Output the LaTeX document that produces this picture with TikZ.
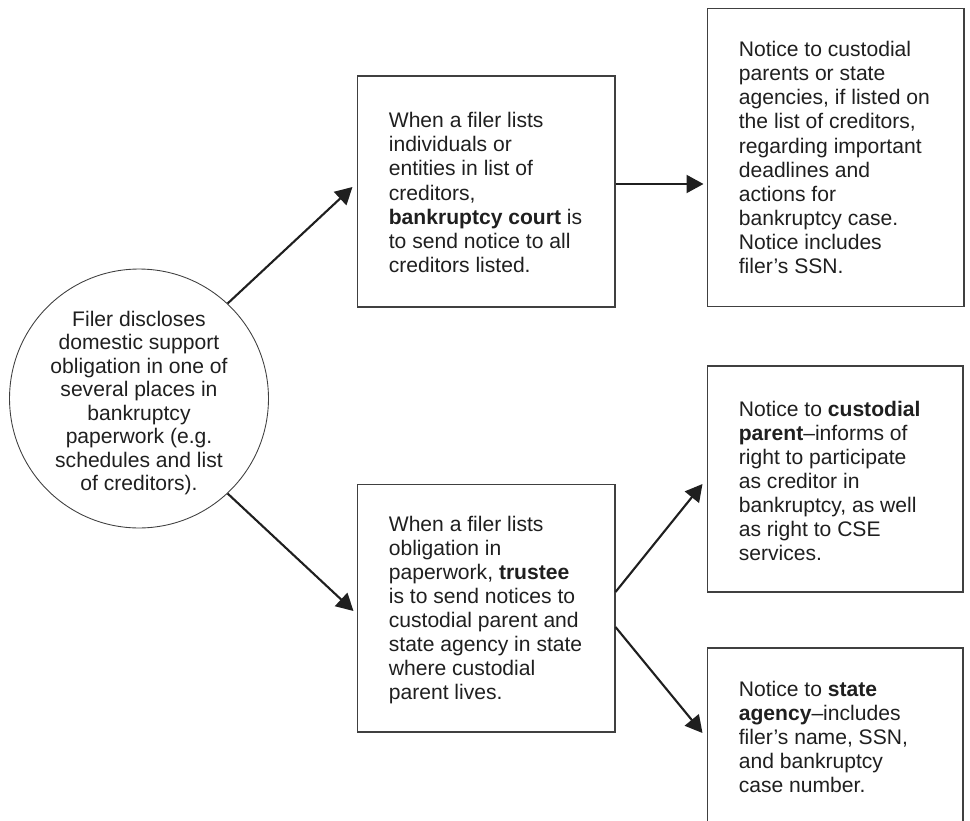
\documentclass[tikz,border=0pt]{standalone}
\usepackage{fontspec}
\setmainfont{Liberation Sans}
\usetikzlibrary{arrows.meta,calc}
\begin{document}
\begin{tikzpicture}[x=0.02cm,y=-0.02cm,
  txt/.style={font=\fontsize{12}{13.7}\selectfont, text=black!88},
  box/.style={draw=black!75, line width=0.6pt, inner sep=0pt},
  btxt/.style={txt, align=left, anchor=west, inner sep=0pt},
  arr/.style={line width=1.2pt, draw=black!88, -{Triangle[length=0.34cm,width=0.36cm]}}]
\useasboundingbox (0,0) rectangle (970,821);
% circle
\node[circle, draw=black!75, line width=0.5pt, minimum size=5.18cm, inner sep=0pt] (c) at (139,398.5) {};
\node[txt, font=\fontsize{12}{13.4}\selectfont, align=center] (ct) at (139,403) {Filer discloses\\domestic support\\obligation in one of\\several places in\\bankruptcy\\paperwork (e.g.\\schedules and list\\of creditors).};
% boxes
\node[box, minimum width=5.16cm, minimum height=4.62cm] (b1) at (486,191.5) {};
\node[box, minimum width=5.14cm, minimum height=5.98cm] (b2) at (835.5,157.5) {};
\node[box, minimum width=5.16cm, minimum height=4.96cm] (b3) at (486,608) {};
\node[box, minimum width=5.12cm, minimum height=4.52cm] (b4) at (835,479) {};
\node[box, minimum width=5.12cm, minimum height=3.56cm] (b5) at (835,737) {};
% box texts
\node[btxt] (t1) at ($(b1.west)+(32,1)$) {When a filer lists\\individuals or\\entities in list of\\creditors,\\\textbf{bankruptcy court} is\\to send notice to all\\creditors listed.};
\node[btxt] (t2) at ($(b2.west)+(32,0)$) {Notice to custodial\\parents or state\\agencies, if listed on\\the list of creditors,\\regarding important\\deadlines and\\actions for\\bankruptcy case.\\Notice includes\\filer’s SSN.};
\node[btxt] (t3) at ($(b3.west)+(32,2)$) {When a filer lists\\obligation in\\paperwork, \textbf{trustee}\\is to send notices to\\custodial parent and\\state agency in state\\where custodial\\parent lives.};
\node[btxt] (t4) at ($(b4.west)+(32,2)$) {Notice to \textbf{custodial}\\\textbf{parent}–informs of\\right to participate\\as creditor in\\bankruptcy, as well\\as right to CSE\\services.};
\node[btxt] (t5) at ($(b5.west)+(32,0)$) {Notice to \textbf{state}\\\textbf{agency}–includes\\filer’s name, SSN,\\and bankruptcy\\case number.};
% arrows
\draw[arr] (c.47) -- ($(b1.west)+(-4,-4.5)$);
\draw[arr] ($(b1.east)+(0,-7.5)$) -- ($(b2.west|-b1.east)+(-3,-7.5)$);
\draw[arr] (c.-47) -- ($(b3.west)+(-3,3)$);
\draw[arr] ($(b3.east)+(0,-16)$) -- ($(b4.west)+(-4,5)$);
\draw[arr] ($(b3.east)+(0,19)$) -- ($(b5.west)+(-4,-4)$);
\end{tikzpicture}
\end{document}
